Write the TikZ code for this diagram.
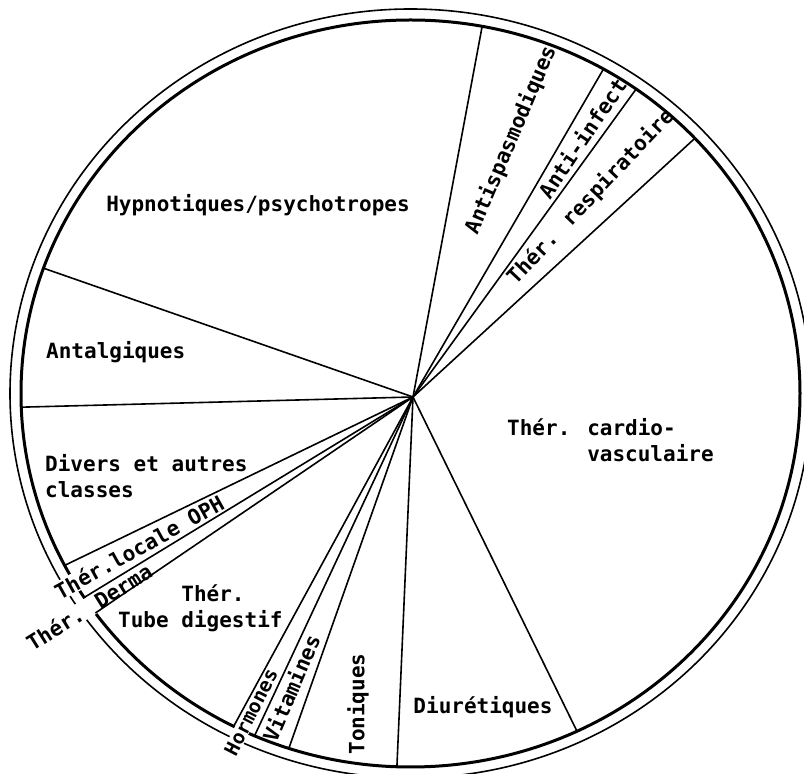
\documentclass[tikz,border=0pt]{standalone}
\usepackage{fontspec}
\setmainfont{DejaVu Sans Mono}
\usetikzlibrary{calc}

\begin{document}
\begin{tikzpicture}[x=1pt,y=1pt,
    lbl/.style={font=\fontsize{21}{26}\selectfont\bfseries, inner sep=1pt},
    cut/.style={lbl, fill=white},
    spoke/.style={line width=1.6pt}]
    \useasboundingbox (0,0) rectangle (804,774);

    % Rim
    \coordinate (ctr) at (410.5,380.5);
    \coordinate (hub) at (413,377);
    \draw[line width=1.6pt] (ctr) ellipse [x radius=400.5, y radius=384.5];
    \draw[line width=3pt] (ctr) ellipse [x radius=389.5, y radius=373.5];

    % Labels crossing the rim
    \node[cut, rotate=29] (oph) at (139,227) {Thér.locale OPH};
    \node[cut, rotate=32] (derma) at (89,167) {Thér. Derma};
    \node[cut, rotate=63, font=\fontsize{19.5}{24}\selectfont\bfseries, inner sep=0.5pt] (horm) at (251,62) {Hormones};

    % Sector borders
    \foreach \a [count=\i] in {79.4,60.3,54.6,43.1,295.3,268.0,251.8,
                               246.4,243.0,216.0,213.1,207.4,182.1,160.4} {
        \coordinate (r\i) at ($(ctr)+(\a:389.5 and 373.5)$);
        \draw[spoke] (hub) -- (r\i);
    }

    % Sector labels
    \node[lbl] (hyp) at (258,569) {Hypnotiques/psychotropes};
    \node[lbl, anchor=west] (antalg) at (45,422) {Antalgiques};
    \node[lbl, anchor=west, align=left] (divers) at (44,298) {Divers et autres\\classes};
    \node[lbl, anchor=west, align=left] (cardio) at (506,334) {Thér. cardio-\\\phantom{Thér. }vasculaire};
    \node[lbl] (diur) at (483,67) {Diurétiques};
    \node[lbl, rotate=90] (ton) at (358,70) {Toniques};
    \node[lbl, rotate=67] (vit) at (291,86) {Vitamines};
    \node[lbl, anchor=west, align=left] (tube) at (117,166) {\phantom{Tube }Thér.\\Tube digestif};
    \node[lbl, rotate=67] (spasm) at (511,634) {Antispasmodiques};
    \node[lbl, rotate=56] (infect) at (582,636) {Anti-infect};
    \node[lbl, rotate=46.6] (resp) at (591,577) {Thér. respiratoire};
\end{tikzpicture}
\end{document}
